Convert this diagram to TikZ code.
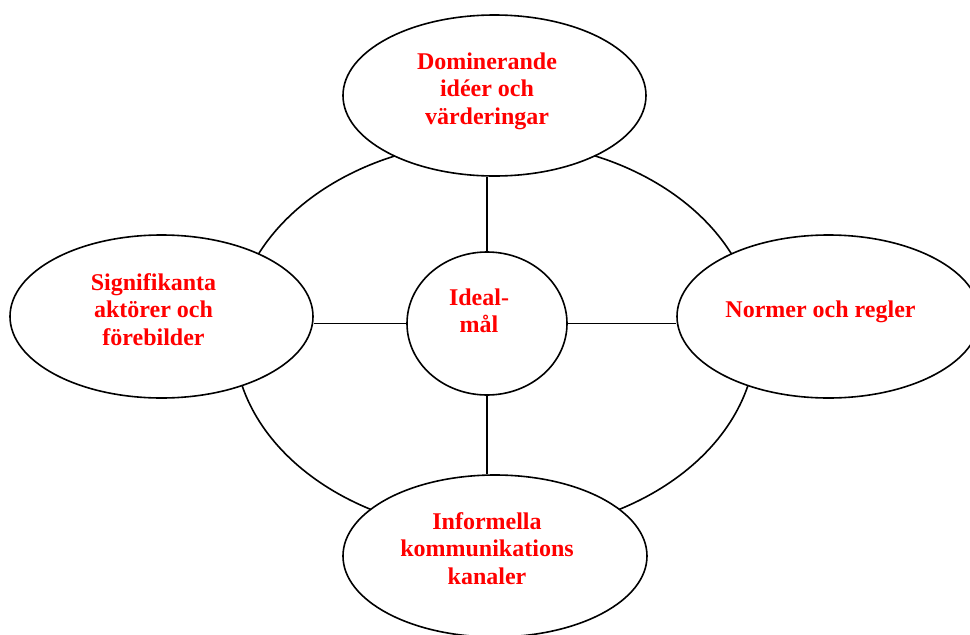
\documentclass[tikz,border=0pt]{standalone}
\usepackage{fontspec}
\setmainfont{Liberation Serif}
\usetikzlibrary{shapes.geometric}
\begin{document}
\begin{tikzpicture}[x=1pt,y=-1pt,
  oval/.style={ellipse, draw, line width=1.6pt, fill=white, inner sep=0pt},
  lbl/.style={text=red, font=\fontsize{24}{27.5}\selectfont\bfseries, align=center, inner sep=0pt},
  link/.style={line width=1.6pt}]
\useasboundingbox (0,0) rectangle (970,635);
\node[ellipse, draw, line width=1.6pt, inner sep=0pt, minimum width=522pt, minimum height=392pt] (ring) at (495,337) {};
\node[oval, minimum width=303pt, minimum height=161pt,
  label={[lbl, xshift=-7.5pt, yshift=4.6pt]center:Dominerande\\idéer och\\värderingar}] (dom) at (494.5,95.5) {};
\node[oval, minimum width=303pt, minimum height=163pt,
  label={[lbl, xshift=-8pt, yshift=7.2pt]center:Signifikanta\\aktörer och\\förebilder}] (left) at (161.5,316.5) {};
\node[oval, minimum width=303pt, minimum height=163pt,
  label={[lbl, xshift=-8pt, yshift=5.1pt]center:Normer och regler}] (right) at (828.5,316.5) {};
\node[oval, minimum width=304pt, minimum height=162pt,
  label={[lbl, xshift=-8pt, yshift=7.7pt]center:Informella\\kommunikations\\kanaler}] (bot) at (495,556) {};
\node[oval, minimum width=160pt, minimum height=143pt,
  label={[lbl, xshift=-8pt, yshift=12.5pt]center:Ideal-\\mål}] (ideal) at (487,323.5) {};
\draw[link] (ideal.north) -- (ideal.north |- dom.south);
\draw[link] (ideal.south) -- (ideal.south |- bot.north);
\draw[link] (ideal.west) -- (ideal.west -| left.east);
\draw[link] (ideal.east) -- (ideal.east -| right.west);
\end{tikzpicture}
\end{document}
